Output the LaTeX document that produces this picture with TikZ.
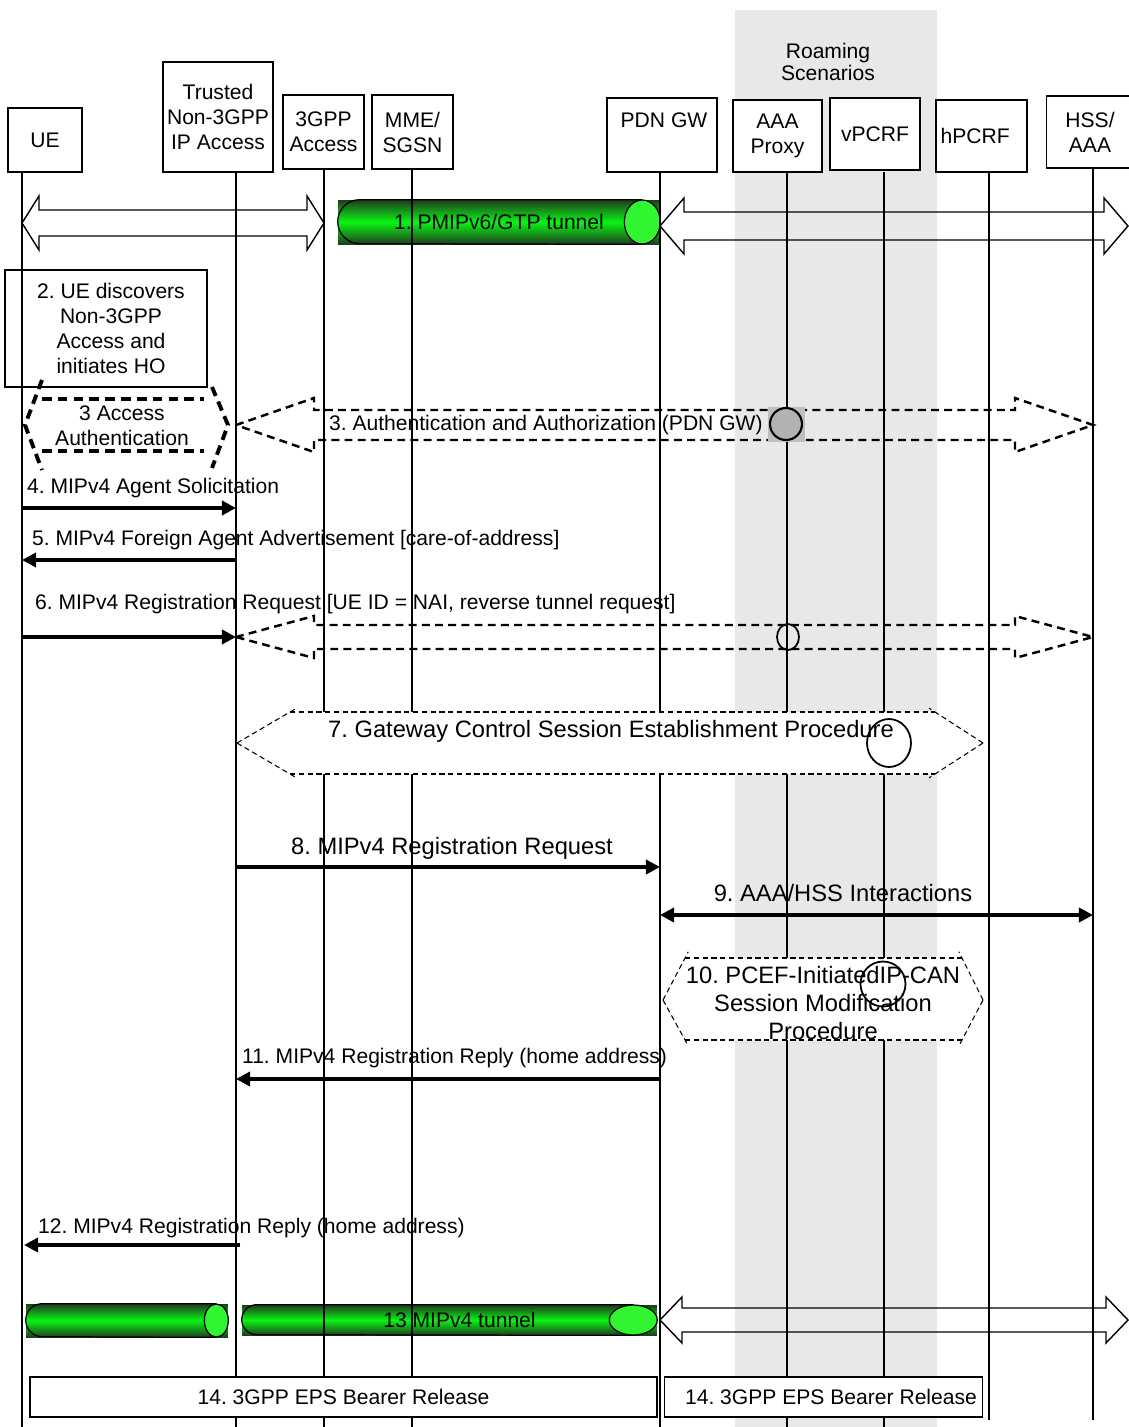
\documentclass[tikz,border=0pt]{standalone}
\usepackage{fontspec}
\setmainfont{Liberation Sans}
\usetikzlibrary{arrows.meta,calc}
\definecolor{roamgray}{RGB}{232,232,232}
\definecolor{tubedark}{RGB}{30,62,30}
\definecolor{tubemid}{RGB}{10,245,20}
\definecolor{tubeend}{RGB}{50,245,50}
\newcommand{\msgfont}{\fontsize{12}{14.2}\selectfont}
\newcommand{\bigmsgfont}{\fontsize{13.5}{15.9}\selectfont}
\frenchspacing

% hollow double arrow: style, left lifeline, right lifeline, y, half shaft, half head, head length
\newcommand{\fatarrow}[7]{%
  \draw[#1] (#2 |- 0,#4) -- ($(#2 |- 0,#4)+(#7,-#6)$) -- ($(#2 |- 0,#4)+(#7,-#5)$)
    -- ($(#3 |- 0,#4)+(-#7,-#5)$) -- ($(#3 |- 0,#4)+(-#7,-#6)$) -- (#3 |- 0,#4)
    -- ($(#3 |- 0,#4)+(-#7,#6)$) -- ($(#3 |- 0,#4)+(-#7,#5)$)
    -- ($(#2 |- 0,#4)+(#7,#5)$) -- ($(#2 |- 0,#4)+(#7,#6)$) -- cycle;}

\begin{document}
\begin{tikzpicture}[
  x=0.02cm, y=-0.02cm,
  ent/.style={draw, line width=0.8pt, fill=white, align=center, font=\msgfont, inner sep=1pt},
  life/.style={line width=0.8pt},
  msg/.style={-{Triangle[length=8pt, width=8pt]}, line width=2pt},
  lbl/.style={font=\msgfont, inner sep=1pt},
  biglbl/.style={font=\bigmsgfont, inner sep=1pt, align=center},
  fat/.style={line width=0.8pt, line join=miter},
  fatdash/.style={line width=1.4pt, dash pattern=on 4.5pt off 3pt},
  accdash/.style={line width=2.2pt, dash pattern=on 5.5pt off 3.5pt},
  hexline/.style={line width=0.6pt, dash pattern=on 3pt off 2pt},
  tube/.style={top color=tubedark, bottom color=tubedark, middle color=tubemid,
               font=\msgfont, inner sep=0pt},
  tubeline/.style={line width=0.7pt},
  relbox/.style={draw, line width=0.7pt, fill=white, font=\msgfont},
]
  \useasboundingbox (0,0) rectangle (1129,1427);

  % roaming band
  \fill[roamgray] (735,10) rectangle (937,1427);
  \node[lbl, align=center, font=\fontsize{12}{13}\selectfont] (roam) at (828,62) {Roaming\\Scenarios};

  % tunnels
  \node[tube, minimum width=6.44cm, minimum height=0.88cm] (tun1) at (499,222) {1. PMIPv6/GTP tunnel};
  \draw[tubeline] ($(tun1.north east)+(-18,0)$) -- ($(tun1.north west)+(22,0)$)
    arc[start angle=90, end angle=270, radius=0.44cm] -- ($(tun1.south east)+(-18,0)$);
  \draw[tubeline, fill=tubeend] ($(tun1.east)+(-18,0)$) ellipse[x radius=0.36cm, y radius=0.44cm];

  \node[tube, minimum width=4.04cm, minimum height=0.66cm] (tun2) at (127,1320.5) {};
  \draw[tubeline] ($(tun2.north east)+(-12,0)$) -- ($(tun2.north west)+(16.5,0)$)
    arc[start angle=90, end angle=270, radius=0.33cm] -- ($(tun2.south east)+(-12,0)$);
  \draw[tubeline, fill=tubeend] ($(tun2.east)+(-12,0)$) ellipse[x radius=0.24cm, y radius=0.33cm];

  \node[tube, minimum width=8.3cm, minimum height=0.6cm] (tun3) at (449.5,1320) {\hspace{0.4cm}13 MIPv4 tunnel};
  \draw[tubeline] ($(tun3.north east)+(-24,0)$) -- ($(tun3.north west)+(15,0)$)
    arc[start angle=90, end angle=270, radius=0.3cm] -- ($(tun3.south east)+(-24,0)$);
  \draw[tubeline, fill=tubeend] ($(tun3.east)+(-24,0)$) ellipse[x radius=0.48cm, y radius=0.3cm];

  % entities
  \node[ent, minimum width=1.48cm, minimum height=1.28cm] (ue) at (45,140) {UE};
  \node[ent, minimum width=2.2cm, minimum height=2.2cm] (tn) at (218,117) {Trusted\\Non-3GPP\\IP Access};
  \node[ent, minimum width=1.62cm, minimum height=1.48cm] (acc) at (323.5,132) {3GPP\\Access};
  \node[ent, minimum width=1.62cm, minimum height=1.48cm] (mme) at (412.5,132) {MME/\\SGSN};
  \node[ent, minimum width=2.2cm, minimum height=1.48cm] (pgw) at (662,135) {};
  \node[lbl] (pgwtxt) at (664,120) {PDN GW};
  \node[ent, minimum width=1.78cm, minimum height=1.44cm] (aaap) at (777.5,136) {AAA\\Proxy};
  \node[ent, minimum width=1.8cm, minimum height=1.44cm] (vpcrf) at (875,134) {vPCRF};
  \node[ent, minimum width=1.82cm, minimum height=1.44cm] (hpcrf) at (981.5,136) {hPCRF\hspace{0.25cm}};
  \node[ent, minimum width=1.74cm, minimum height=1.44cm] (hss) at (1090,132) {HSS/\\AAA};

  % lifelines
  \coordinate (lUE) at (22,172);
  \coordinate (lTN) at (236,172);
  \coordinate (lAC) at (324,169);
  \coordinate (lMM) at (412,169);
  \coordinate (lPG) at (660,172);
  \coordinate (lAP) at (787,172);
  \coordinate (lVP) at (884,172);
  \coordinate (lHP) at (989,172);
  \coordinate (lHS) at (1093,168);
  \coordinate (rEdge) at (1128,172);
  \draw[life] (lUE) -- (lUE |- 0,1427);
  \draw[life] (lTN) -- (lTN |- 0,1427);
  \draw[life] (lAC) -- (lAC |- 0,1427);
  \draw[life] (lMM) -- (lMM |- 0,1427);
  \draw[life] (lPG) -- (lPG |- 0,1427);
  \draw[life] (lAP) -- (lAP |- 0,1427);
  \draw[life] (lVP) -- (lVP |- 0,1427);
  \draw[life] (lHP) -- (lHP |- 0,1420);
  \draw[life] (lHS) -- (lHS |- 0,1420);

  % 1. tunnel arrows
  \fatarrow{fat}{lUE}{lAC}{223}{13}{27}{17}
  \fatarrow{fat}{lPG}{rEdge}{226}{14}{28}{24}

  % 2. and 3.
  \node[draw, line width=0.6pt, align=center, font=\msgfont, minimum width=4.04cm,
        minimum height=2.34cm] (disc) at (106,328.5) {\hspace{0.2cm}2. UE discovers\\\hspace{0.2cm}Non-3GPP\\\hspace{0.2cm}Access and\\\hspace{0.2cm}initiates HO};
  \draw[accdash] (42,380) -- (25,425) -- (42,470);
  \draw[accdash] (212,387) -- (228,425) -- (212,468);
  \draw[accdash] (42,399) -- (204,399) (42,451) -- (204,451);
  \node[lbl, align=center] (accauth) at (122,426) {3 Access\\Authentication};
  \fatarrow{fatdash}{lTN}{lHS}{425}{15}{27}{78}
  \node[lbl, anchor=west] (t3) at (327,425) {3. Authentication and Authorization (PDN GW)};
  \fill[black!25] (768,407) rectangle (805,442);
  \draw[line width=1.2pt, fill=black!30] (786,424) circle[radius=0.32cm];

  % 4. - 6.
  \draw[msg] (lUE |- 0,508) -- (lTN |- 0,508);
  \node[lbl, anchor=west] (t4) at (25,488) {4. MIPv4 Agent Solicitation};
  \draw[msg] (lTN |- 0,560) -- (lUE |- 0,560);
  \node[lbl, anchor=west] (t5) at (30,540) {5. MIPv4 Foreign Agent Advertisement [care-of-address]};
  \draw[msg] (lUE |- 0,637) -- (lTN |- 0,637);
  \node[lbl, anchor=west] (t6) at (33,604) {6. MIPv4 Registration Request [UE ID = NAI, reverse tunnel request]};
  \fatarrow{fatdash}{lTN}{lHS}{637}{12}{21}{78}
  \draw[line width=1pt] (788,637) ellipse[x radius=0.22cm, y radius=0.26cm];

  % 7. gateway control session
  \path[fill=white] (237,743) -- (290,712) -- (935,712) -- (983,743) -- (935,774) -- (290,774) -- cycle;
  \draw[hexline] (290,712) -- (935,712) (290,774) -- (935,774);
  \draw[hexline, shorten >=-4pt] (237,743) -- (290,712);
  \draw[hexline, shorten >=-4pt] (237,743) -- (290,774);
  \draw[hexline, shorten >=-4pt] (983,743) -- (935,712);
  \draw[hexline, shorten >=-4pt] (983,743) -- (935,774);
  \node[biglbl] (gcs) at (611,731) {7. Gateway Control Session Establishment Procedure};
  \draw[line width=1pt] (889,743) ellipse[x radius=0.44cm, y radius=0.48cm];

  % 8. and 9.
  \draw[msg] (lTN |- 0,867) -- (lPG |- 0,867);
  \node[biglbl] (t8) at (452,848) {8. MIPv4 Registration Request};
  \draw[msg, {Triangle[length=8pt, width=8pt]}-{Triangle[length=8pt, width=8pt]}] (lPG |- 0,915) -- (lHS |- 0,915);
  \node[biglbl] (t9) at (843,893) {9. AAA/HSS Interactions};

  % 10. IP-CAN session modification
  \path[fill=white] (663,1000) -- (685,958) -- (962,958) -- (983,1000) -- (962,1040) -- (685,1040) -- cycle;
  \draw[hexline] (685,958) -- (962,958) (685,1040) -- (962,1040);
  \draw[hexline, shorten >=-4pt] (663,1000) -- (685,958);
  \draw[hexline, shorten >=-4pt] (663,1000) -- (685,1040);
  \draw[hexline, shorten >=-4pt] (983,1000) -- (962,958);
  \draw[hexline, shorten >=-4pt] (983,1000) -- (962,1040);
  \node[biglbl] (pcef) at (823,1003) {10. PCEF-InitiatedIP-CAN\\Session Modification\\Procedure};
  \draw[line width=1pt] (883,984) circle[radius=0.45cm];

  % 11. and 12.
  \draw[msg] (lPG |- 0,1079) -- (lTN |- 0,1079);
  \node[lbl, anchor=west] (t11) at (240,1058) {11. MIPv4 Registration Reply (home address)};
  \draw[msg] ($(lTN |- 0,1245)+(4,0)$) -- ($(lUE |- 0,1245)+(2,0)$);
  \node[lbl, anchor=west] (t12) at (36,1228) {12. MIPv4 Registration Reply (home address)};

  % 13. tunnel arrow
  \fatarrow{fat}{lPG}{rEdge}{1320}{12}{23}{22}

  % 14. bearer release
  \node[relbox, minimum width=12.54cm, minimum height=0.8cm] (rel1) at (343.5,1397) {14. 3GPP EPS Bearer Release};
  \node[relbox, minimum width=6.34cm, minimum height=0.8cm] (rel2) at (823.5,1397) {\hspace{0.3cm}14. 3GPP EPS Bearer Release};
\end{tikzpicture}
\end{document}
